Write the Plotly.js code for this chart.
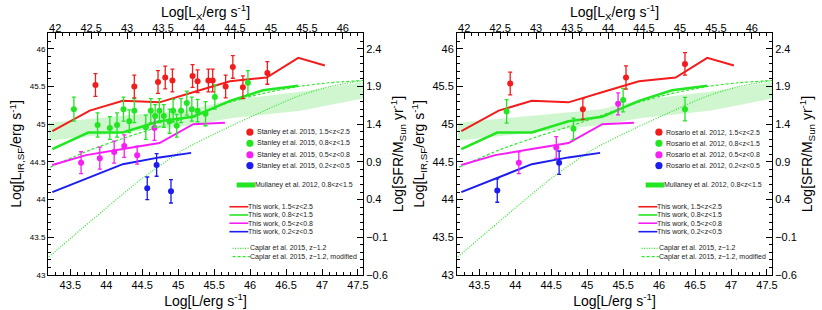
<!DOCTYPE html>
<html><head><meta charset="utf-8">
<script src="https://cdn.plot.ly/plotly-3.0.1.min.js"></script>
<style>html,body{margin:0;padding:0;background:#fff}#chart{width:822px;height:310px}</style>
</head><body><div id="chart"></div>
<script>
// ---------- Model curves (shared by both panels) ----------
const twRedL  = [43.25, 43.77, 44.23, 44.74, 45.23, 45.72, 46.23, 46.67, 47.04];
const twRedIR = [44.91, 45.18, 45.31, 45.29, 45.43, 45.57, 45.62, 45.88, 45.78];
const twGreenL  = [43.25, 43.75, 44.23, 44.74, 45.21, 45.72, 46.18, 46.67];
const twGreenIR = [44.67, 44.89, 44.89, 45.04, 45.10, 45.31, 45.45, 45.51];
const twMagL  = [43.25, 43.72, 44.23, 44.74, 45.21, 45.65];
const twMagIR = [44.46, 44.59, 44.67, 44.75, 45.00, 45.02];
const twBlueL  = [43.25, 43.71, 44.23, 44.74, 45.18];
const twBlueIR = [44.10, 44.27, 44.47, 44.56, 44.62];

const caplarL  = [43.20, 43.78, 44.47, 45.07, 45.63, 46.20, 46.66, 47.11, 47.57];
const caplarIR = [43.24, 43.71, 44.26, 44.66, 44.93, 45.18, 45.37, 45.50, 45.58];
const caplarModL  = [43.22, 43.78, 44.29, 44.75, 45.21, 45.68, 46.14, 46.67, 47.10, 47.57];
const caplarModIR = [44.43, 44.66, 44.83, 44.97, 45.12, 45.28, 45.40, 45.50, 45.55, 45.58];

const mullL     = [43.20, 45.20, 45.73, 46.70, 47.57];
const mullUpper = [45.02, 45.20, 45.32, 45.43, 45.56];
const mullLower = [44.78, 44.99, 45.08, 45.18, 45.34];

// ---------- Stanley et al. 2015 (left panel) ----------
const stRedL   = [43.85, 44.39, 44.72, 44.82, 44.92, 45.20, 45.27, 45.42, 45.48, 45.66, 45.76, 45.90, 46.24];
const stRedIR  = [45.52, 45.50, 45.56, 45.62, 45.58, 45.64, 45.57, 45.58, 45.58, 45.50, 45.76, 45.49, 45.68];
const stRedErr = [0.15, 0.15, 0.15, 0.15, 0.15, 0.15, 0.15, 0.15, 0.15, 0.15, 0.15, 0.15, 0.15];
const stGreenL   = [43.55, 43.88, 44.05, 44.15, 44.24, 44.32, 44.39, 44.55, 44.62, 44.68, 44.74, 44.80, 44.88, 44.93, 44.98, 45.04, 45.12, 45.19, 45.27, 45.38, 45.51, 45.97];
const stGreenIR  = [45.20, 44.99, 44.95, 44.99, 45.20, 45.04, 45.18, 44.96, 45.18, 45.11, 45.18, 45.11, 45.04, 45.18, 44.98, 45.18, 45.28, 45.20, 45.18, 45.14, 45.36, 45.55];
const stGreenErr = [0.16, 0.16, 0.15, 0.16, 0.16, 0.15, 0.16, 0.16, 0.16, 0.15, 0.16, 0.15, 0.16, 0.15, 0.15, 0.16, 0.16, 0.16, 0.15, 0.16, 0.16, 0.16];
const stMagL   = [43.65, 43.91, 44.11, 44.25, 44.43, 44.67];
const stMagIR  = [44.49, 44.55, 44.63, 44.71, 44.59, 44.95];
const stMagErr = [0.145, 0.145, 0.145, 0.15, 0.12, 0.165];
const stBlueL   = [44.57, 44.70, 44.90];
const stBlueIR  = [44.15, 44.46, 44.11];
const stBlueErr = [0.15, 0.15, 0.155];

// ---------- Rosario et al. 2012 (right panel) ----------
const roRedL   = [43.93, 44.94, 45.54, 46.36];
const roRedIR  = [45.54, 45.20, 45.62, 45.80];
const roRedErr = [0.15, 0.14, 0.155, 0.15];
const roGreenL   = [43.88, 44.81, 45.50, 46.36];
const roGreenIR  = [45.17, 44.94, 45.32, 45.20];
const roGreenErr = [0.155, 0.14, 0.155, 0.155];
const roMagL   = [44.05, 44.57, 45.43];
const roMagIR  = [44.49, 44.69, 45.27];
const roMagErr = [0.145, 0.145, 0.145];
const roBlueL   = [43.75, 44.61];
const roBlueIR  = [44.12, 44.49];
const roBlueErr = [0.155, 0.155];

// ---------- Axis ranges / ticks ----------
const lRange  = [43.19, 47.57];
const lxOffset = 1.29;          // Log L - Log Lx
const irRange = [43.0, 46.21];
const sfrOffset = 43.6;          // Log LIR - Log SFR

// ---------- Legend texts ----------
const stanleyLabels = ['Stanley et al. 2015, 1.5&lt;z&lt;2.5','Stanley et al. 2015, 0.8&lt;z&lt;1.5','Stanley et al. 2015, 0.5&lt;z&lt;0.8','Stanley et al. 2015, 0.2&lt;z&lt;0.5'];
const rosarioLabels = ['Rosario et al. 2012, 1.5&lt;z&lt;2.5','Rosario et al. 2012, 0.8&lt;z&lt;1.5','Rosario et al. 2012, 0.5&lt;z&lt;0.8','Rosario et al. 2012, 0.2&lt;z&lt;0.5'];
const mullLabel = 'Mullaney et al. 2012, 0.8&lt;z&lt;1.5';
const thisWorkLabels = ['This work, 1.5&lt;z&lt;2.5','This work, 0.8&lt;z&lt;1.5','This work, 0.5&lt;z&lt;0.8','This work, 0.2&lt;z&lt;0.5'];
const caplarLabels = ['Caplar et al. 2015, z~1.2','Caplar et al. 2015, z~1.2, modified'];

const RED = '#f21c1c', GREEN = '#22e622', MAG = '#f51ef5', BLUE = '#1c1cf0', LIME = '#2ee82e';
const colors4 = [RED, GREEN, MAG, BLUE];
const FONT = 'Liberation Sans, Arial, Helvetica, sans-serif';

function modelTraces(xa, ya) {
  const base = {xaxis: xa, yaxis: ya, showlegend: false, hoverinfo: 'skip'};
  return [
    Object.assign({}, base, {x: mullL, y: mullLower, mode: 'lines', line: {width: 0, color: 'rgba(0,0,0,0)'}}),
    Object.assign({}, base, {x: mullL, y: mullUpper, mode: 'lines', line: {width: 0, color: 'rgba(0,0,0,0)'}, fill: 'tonexty', fillcolor: 'rgba(40,215,40,0.22)'}),
    Object.assign({}, base, {x: caplarL, y: caplarIR, mode: 'lines', line: {color: LIME, width: 1.2, dash: '1px,1.5px', shape: 'spline', smoothing: 0.6}}),
    Object.assign({}, base, {x: caplarModL, y: caplarModIR, mode: 'lines', line: {color: LIME, width: 1.2, dash: '3px,2px', shape: 'spline', smoothing: 0.6}}),
    Object.assign({}, base, {x: twBlueL, y: twBlueIR, mode: 'lines', line: {color: BLUE, width: 2}}),
    Object.assign({}, base, {x: twMagL, y: twMagIR, mode: 'lines', line: {color: MAG, width: 2}}),
    Object.assign({}, base, {x: twGreenL, y: twGreenIR, mode: 'lines', line: {color: GREEN, width: 2.6}}),
    Object.assign({}, base, {x: twRedL, y: twRedIR, mode: 'lines', line: {color: RED, width: 2}})
  ];
}
function pointTrace(xa, ya, L, IR, err, color) {
  return {x: L, y: IR, xaxis: xa, yaxis: ya, mode: 'markers', showlegend: false, hoverinfo: 'skip',
    marker: {color: color, size: 6},
    error_y: {type: 'data', array: err, visible: true, color: color, thickness: 1.3, width: 2}};
}

const data = [].concat(
  modelTraces('x', 'y'),
  [pointTrace('x','y', stBlueL, stBlueIR, stBlueErr, BLUE),
   pointTrace('x','y', stMagL, stMagIR, stMagErr, MAG),
   pointTrace('x','y', stGreenL, stGreenIR, stGreenErr, GREEN),
   pointTrace('x','y', stRedL, stRedIR, stRedErr, RED)],
  modelTraces('x3', 'y3'),
  [pointTrace('x3','y3', roBlueL, roBlueIR, roBlueErr, BLUE),
   pointTrace('x3','y3', roMagL, roMagIR, roMagErr, MAG),
   pointTrace('x3','y3', roGreenL, roGreenIR, roGreenErr, GREEN),
   pointTrace('x3','y3', roRedL, roRedIR, roRedErr, RED)],
  [{x: [], y: [], xaxis: 'x2', yaxis: 'y2', showlegend: false},
   {x: [], y: [], xaxis: 'x4', yaxis: 'y4', showlegend: false}]
);

function axisCommon(extra) {
  return Object.assign({
    showline: true, linecolor: '#000', linewidth: 1, mirror: false,
    showgrid: false, zeroline: false, ticks: 'inside', ticklen: 6, tickwidth: 1, tickcolor: '#000',
    tickmode: 'linear', dtick: 0.5, automargin: false,
    tickfont: {family: FONT, size: 11, color: '#000'},
    minor: {ticks: 'inside', ticklen: 3, dtick: 0.1, tickcolor: '#000', tickwidth: 1, showgrid: false}
  }, extra);
}
const titleFont = {family: FONT, size: 14, color: '#000'};
const xTitle = 'Log[L/erg s<sup>-1</sup>]';
const xTopTitle = 'Log[L<sub>X</sub>/erg s<sup>-1</sup>]';
const yTitle = 'Log[L<sub>IR,SF</sub>/erg s<sup>-1</sup>]';
const yRightTitle = 'Log[SFR/M<sub>Sun</sub> yr<sup>-1</sup>]';

const yDom = [1 - 275/310, 1 - 33/310];
const dom1 = [48/822, 363/822];
const dom2 = [457/822, 772/822];
const lxRange = [lRange[0] - lxOffset, lRange[1] - lxOffset];
const sfrRange = [irRange[0] - sfrOffset, irRange[1] - sfrOffset];

const layout = {
  width: 822, height: 310,
  margin: {l: 0, r: 0, t: 0, b: 0},
  paper_bgcolor: '#fff', plot_bgcolor: '#fff',
  showlegend: false,
  font: {family: FONT, color: '#000'},
  xaxis: axisCommon({domain: dom1, range: lRange, anchor: 'y', tick0: 43.5,
    title: {text: xTitle, font: titleFont, standoff: 4}}),
  xaxis2: axisCommon({range: lxRange, overlaying: 'x', side: 'top', anchor: 'y', tick0: 42,
    ticklabelstandoff: -4,
    title: {text: xTopTitle, font: titleFont, standoff: 0}}),
  yaxis: axisCommon({domain: yDom, range: irRange, anchor: 'x', tick0: 43,
    tickfont: {family: FONT, size: 8, color: '#000'},
    title: {text: yTitle, font: titleFont, standoff: 4}}),
  yaxis2: axisCommon({range: sfrRange, overlaying: 'y', side: 'right', anchor: 'x', tick0: -0.6,
    tickfont: {family: FONT, size: 11, color: '#000'},
    title: {text: yRightTitle, font: titleFont, standoff: 6}}),
  xaxis3: axisCommon({domain: dom2, range: lRange, anchor: 'y3', tick0: 43.5,
    title: {text: xTitle, font: titleFont, standoff: 4}}),
  xaxis4: axisCommon({range: lxRange, overlaying: 'x3', side: 'top', anchor: 'y3', tick0: 42,
    ticklabelstandoff: -4,
    title: {text: xTopTitle, font: titleFont, standoff: 0}}),
  yaxis3: axisCommon({domain: yDom, range: irRange, anchor: 'x3', tick0: 43,
    tickfont: {family: FONT, size: 11, color: '#000'},
    title: {text: yTitle, font: titleFont, standoff: 4}}),
  yaxis4: axisCommon({range: sfrRange, overlaying: 'y3', side: 'right', anchor: 'x3', tick0: -0.6,
    tickfont: {family: FONT, size: 11, color: '#000'},
    title: {text: yRightTitle, font: titleFont, standoff: 6}}),
  shapes: [], annotations: []
};

// ---------- Hand-drawn legends inside each panel ----------
const legFont = {family: FONT, size: 7, color: '#222'};
const dotRows = [0.590, 0.544, 0.497, 0.452];
const lineRows = [0.282, 0.248, 0.214, 0.179];
const capRows = [0.110, 0.076];
function addLegend(xr, yr, pointLabels) {
  const xd = xr + ' domain', yd = yr + ' domain';
  pointLabels.forEach((t, i) => {
    layout.shapes.push({type: 'circle', xref: xd, yref: yd, xsizemode: 'pixel', ysizemode: 'pixel',
      xanchor: 0.641, yanchor: dotRows[i], x0: -3.6, x1: 3.6, y0: -3.6, y1: 3.6,
      fillcolor: colors4[i], line: {width: 0}});
    layout.annotations.push({xref: xd, yref: yd, x: 0.656, y: dotRows[i], text: t, showarrow: false,
      xanchor: 'left', yanchor: 'middle', font: legFont});
  });
  layout.shapes.push({type: 'line', xref: xd, yref: yd, x0: 0.599, x1: 0.657, y0: 0.372, y1: 0.372,
    line: {color: GREEN, width: 5}});
  layout.annotations.push({xref: xd, yref: yd, x: 0.651, y: 0.372, text: mullLabel, showarrow: false,
    xanchor: 'left', yanchor: 'middle', font: legFont});
  thisWorkLabels.forEach((t, i) => {
    layout.shapes.push({type: 'line', xref: xd, yref: yd, x0: 0.576, x1: 0.636, y0: lineRows[i], y1: lineRows[i],
      line: {color: colors4[i], width: 1.6}});
    layout.annotations.push({xref: xd, yref: yd, x: 0.629, y: lineRows[i], text: t, showarrow: false,
      xanchor: 'left', yanchor: 'middle', font: legFont});
  });
  caplarLabels.forEach((t, i) => {
    layout.shapes.push({type: 'line', xref: xd, yref: yd, x0: 0.586, x1: 0.641, y0: capRows[i], y1: capRows[i],
      line: {color: LIME, width: 1.2, dash: i === 0 ? '1px,1.5px' : '3px,2px'}});
    layout.annotations.push({xref: xd, yref: yd, x: 0.634, y: capRows[i], text: t, showarrow: false,
      xanchor: 'left', yanchor: 'middle', font: legFont});
  });
}
addLegend('x', 'y', stanleyLabels);
addLegend('x3', 'y3', rosarioLabels);

Plotly.newPlot('chart', data, layout, {staticPlot: true, displayModeBar: false});
</script></body></html>
